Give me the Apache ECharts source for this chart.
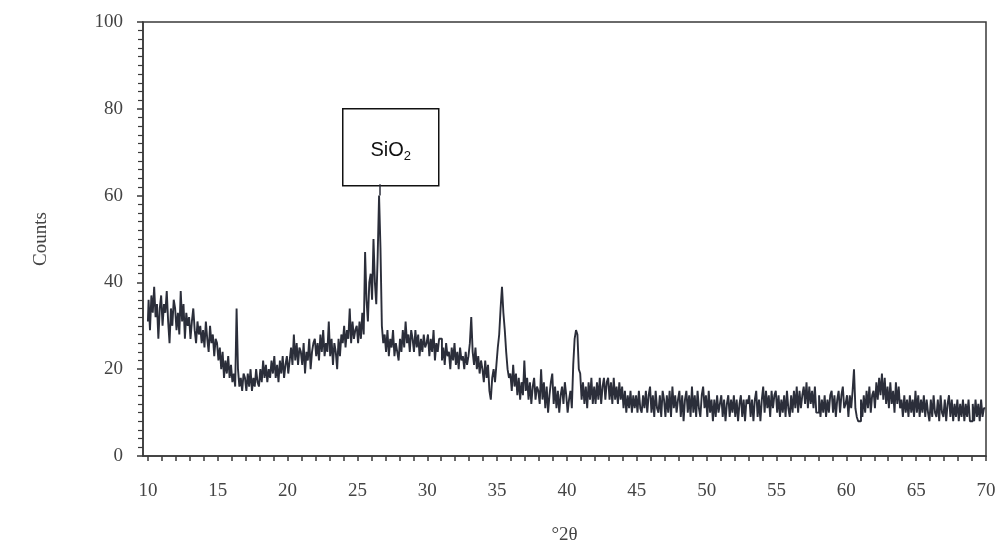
<!DOCTYPE html>
<html><head><meta charset="utf-8">
<script src="https://cdn.jsdelivr.net/npm/echarts@6/dist/echarts.min.js"></script>
<style>html,body{margin:0;padding:0;background:#fff}#c{width:1005px;height:550px}</style>
</head><body><div id="c"></div>
<script>
// XRD scan: 2θ from 10 to 70 in steps of 0.1 degrees (one row per degree)
const twoThetaStart = 10;
const twoThetaStep = 0.1;
const counts = [
  31,36,29,37,33,39,32,35,27,34,   // 10
  37,30,35,33,38,31,26,34,30,36,   // 11
  34,29,33,28,38,31,35,27,33,30,   // 12
  32,27,31,34,29,26,31,28,30,26,   // 13
  29,25,31,27,24,30,26,28,23,27,   // 14
  26,22,25,20,24,18,22,19,23,18,   // 15
  21,17,19,16,34,20,16,18,15,19,   // 16
  18,15,19,16,20,15,18,16,20,17,   // 17
  16,20,17,22,18,21,17,20,18,22,   // 18
  19,23,18,21,17,22,19,23,18,21,   // 19
  23,19,22,25,21,28,22,26,21,25,   // 20
  24,21,26,19,24,22,27,20,24,26,   // 21
  27,23,26,22,28,24,29,23,26,24,   // 22
  31,23,27,21,26,24,20,27,23,28,   // 23
  26,30,25,29,27,34,26,31,27,29,   // 24
  30,26,31,27,33,28,47,36,31,40,   // 25
  42,36,50,40,35,46,60,48,30,26,   // 26
  28,24,29,23,27,25,29,23,26,24,   // 27
  22,27,24,29,25,31,26,28,24,29,   // 28
  27,24,29,25,28,23,27,24,28,25,   // 29
  26,28,23,27,24,29,22,26,24,27,   // 30
  27,22,25,21,26,23,24,20,25,22,   // 31
  26,21,24,20,25,22,23,20,24,21,   // 32
  23,26,32,24,21,25,20,23,19,22,   // 33
  20,17,22,18,21,15,13,18,20,17,   // 34
  21,25,28,34,39,33,29,24,20,18,   // 35
  19,15,21,16,19,14,18,13,17,14,   // 36
  22,15,18,13,17,12,16,18,13,16,   // 37
  15,12,20,13,17,11,16,10,14,17,   // 38
  19,12,16,11,15,10,14,16,12,17,   // 39
  14,10,13,15,11,21,27,29,28,20,   // 40
  19,13,17,12,16,11,17,13,18,12,   // 41
  16,12,17,13,18,12,16,18,13,17,   // 42
  18,13,17,12,18,13,16,12,17,13,   // 43
  16,11,15,10,14,11,15,10,14,11,   // 44
  14,10,15,11,10,14,11,15,10,14,   // 45
  16,10,14,9,15,11,10,14,9,15,     // 46
  13,9,14,10,15,9,16,11,14,10,     // 47
  13,15,9,14,8,13,15,10,14,9,      // 48
  16,10,14,9,15,11,9,14,16,11,     // 49
  14,9,15,10,13,8,13,9,14,10,      // 50
  12,14,9,13,8,12,14,9,13,10,      // 51
  14,9,13,8,12,14,9,13,8,13,       // 52
  12,14,9,13,8,13,15,9,13,8,       // 53
  13,16,10,15,11,14,9,15,11,14,    // 54
  15,10,14,9,13,10,14,9,15,11,     // 55
  9,14,10,15,11,16,10,15,11,14,    // 56
  16,12,17,11,16,12,15,11,16,10,   // 57
  10,14,9,13,10,14,9,13,10,14,     // 58
  15,10,14,9,13,15,10,14,16,11,    // 59
  12,14,9,14,11,15,20,11,9,8,      // 60
  8,13,9,14,10,15,11,16,10,14,     // 61
  15,11,17,13,18,14,19,13,18,12,   // 62
  16,11,17,12,15,10,17,12,16,11,   // 63
  13,9,14,10,13,9,14,10,13,9,      // 64
  15,10,14,9,13,10,14,9,13,10,     // 65
  8,13,9,14,10,9,13,8,14,10,       // 66
  9,13,8,12,14,9,13,8,12,9,        // 67
  13,8,12,9,13,8,12,9,13,8,        // 68
  8,12,8,13,9,12,8,13,9,11,        // 69
  11                               // 70
];
const xLabelValues = [10,15,20,25,30,35,40,45,50,55,60,65,70];
const xTickValues = [10,11,12,13,14,15,16,17,18,19,20,21,22,23,24,25,26,27,28,29,30,31,32,33,34,35,36,37,38,39,40,41,42,43,44,45,46,47,48,49,50,51,52,53,54,55,56,57,58,59,60,61,62,63,64,65,66,67,68,69,70];
const peakPosition = [26.6, 60];
const peakConnectorTop = 62.6;

const seriesData = counts.map((v, i) => [+(twoThetaStart + i * twoThetaStep).toFixed(1), v]);

const chart = echarts.init(document.getElementById('c'), null, {renderer: 'canvas'});
const axisColor = '#3a3a3a';
const labelFont = {fontFamily: 'Liberation Serif', fontSize: 19, color: '#444'};
chart.setOption({
  animation: false,
  backgroundColor: '#fff',
  grid: {left: 143, right: 19, top: 22, bottom: 92, show: true, borderColor: axisColor, borderWidth: 1.5, backgroundColor: 'transparent'},
  xAxis: {
    type: 'value', min: 9.65, max: 70,
    name: '°2θ', nameLocation: 'middle', nameGap: 70,
    nameTextStyle: {fontFamily: 'Liberation Serif', fontSize: 19, color: '#444'},
    axisLine: {show: true, onZero: false, lineStyle: {color: axisColor, width: 1.5}},
    axisTick: {show: true, inside: false, length: 5, customValues: xTickValues, lineStyle: {color: axisColor, width: 1.5}},
    axisLabel: Object.assign({margin: 26, customValues: xLabelValues}, labelFont),
    splitLine: {show: false}
  },
  yAxis: {
    type: 'value', min: 0, max: 100, interval: 20,
    name: 'Counts', nameLocation: 'middle', nameGap: 92, nameRotate: 90,
    nameTextStyle: {fontFamily: 'Liberation Serif', fontSize: 19, color: '#444'},
    axisLine: {show: true, lineStyle: {color: axisColor, width: 1.5}},
    axisTick: {show: true, inside: false, length: 6, lineStyle: {color: axisColor, width: 1.5}},
    minorTick: {show: true, splitNumber: 10, length: 5, lineStyle: {color: axisColor, width: 1.2}},
    axisLabel: Object.assign({margin: 20}, labelFont),
    splitLine: {show: false}
  },
  series: [{
    type: 'line',
    data: seriesData,
    step: 'middle',
    showSymbol: false,
    symbol: 'none',
    lineStyle: {color: '#2b2e3a', width: 1.9},
    markLine: {
      silent: true, symbol: 'none', label: {show: false},
      lineStyle: {color: '#2b2e3a', width: 1.5, type: 'solid'},
      data: [[{coord: peakPosition}, {coord: [peakPosition[0], peakConnectorTop]}]]
    }
  }],
  graphic: [{
    type: 'group', left: 342, top: 108,
    children: [
      {type: 'rect', shape: {x: 0, y: 0, width: 96, height: 77}, style: {fill: '#fff', stroke: '#111', lineWidth: 1.5}},
      {type: 'text', x: 48, y: 42, style: {
        text: '{b|SiO}{s|2}', align: 'center', verticalAlign: 'middle',
        rich: {
          b: {fontFamily: 'Liberation Sans', fontSize: 20, fill: '#111'},
          s: {fontFamily: 'Liberation Sans', fontSize: 13, fill: '#111', padding: [12, 0, 0, 0]}
        }
      }}
    ]
  }]
});
</script></body></html>
